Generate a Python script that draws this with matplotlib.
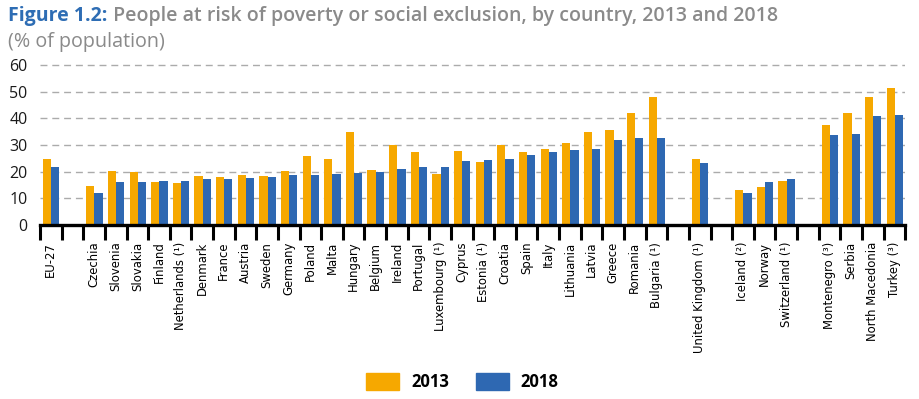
import numpy as np
import matplotlib.pyplot as plt
from matplotlib.patches import Patch

# categorias (None = hueco entre grupos)
paises = ["EU-27", None, "Czechia", "Slovenia", "Slovakia", "Finland", "Netherlands (¹)",
          "Denmark", "France", "Austria", "Sweden", "Germany", "Poland", "Malta",
          "Hungary", "Belgium", "Ireland", "Portugal", "Luxembourg (¹)", "Cyprus",
          "Estonia (¹)", "Croatia", "Spain", "Italy", "Lithuania", "Latvia", "Greece",
          "Romania", "Bulgaria (¹)", None, "United Kingdom (¹)", None, "Iceland (²)",
          "Norway", "Switzerland (¹)", None, "Montenegro (³)", "Serbia",
          "North Macedonia", "Turkey (³)"]

valores_2013 = [24.6, None, 14.6, 20.4, 19.8, 16.0, 15.9, 18.3, 18.1, 18.8, 18.3, 20.3,
                25.8, 24.6, 34.8, 20.8, 29.9, 27.5, 19.0, 27.8, 23.5, 29.9, 27.3, 28.5,
                30.8, 35.1, 35.7, 41.9, 48.0, None, 24.8, None, 13.0, 14.1, 16.4, None,
                37.4, 42.0, 48.1, 51.6]

valores_2018 = [21.6, None, 12.2, 16.2, 16.3, 16.5, 16.7, 17.4, 17.4, 17.5, 18.0, 18.7,
                18.9, 19.0, 19.6, 19.8, 21.1, 21.6, 21.9, 23.9, 24.4, 24.8, 26.1, 27.3,
                28.3, 28.4, 31.8, 32.5, 32.8, None, 23.1, None, 12.2, 16.2, 17.4, None,
                33.8, 34.3, 41.0, 41.3]

naranja = "#F6A800"
azul = "#2E68B2"
gris = "#8A8A8A"

fig = plt.figure(figsize=(9.19, 3.99), dpi=100)
ax = fig.add_axes([0.0435, 0.436, 0.9415, 0.414])

pos = np.arange(len(paises))
idx = [i for i, v in enumerate(valores_2013) if v is not None]
ancho = 0.38
ax.bar(pos[idx] - ancho / 2 + 0.02, [valores_2013[i] for i in idx], ancho, color=naranja, zorder=3)
ax.bar(pos[idx] + ancho / 2 + 0.02, [valores_2018[i] for i in idx], ancho, color=azul, zorder=3)

ax.set_xlim(-0.5, len(paises) - 0.5)
ax.set_ylim(0, 62)
ax.set_yticks(range(0, 61, 10))
ax.tick_params(axis='y', length=0, pad=9, labelsize=11.5, labelcolor="#1a1a1a")
for lab in ax.get_yticklabels():
    lab.set_family("Open Sans")

ax.set_xticks(pos)
ax.set_xticklabels([p if p else "" for p in paises], rotation=90, va='top', ha='center',
                   family=["Liberation Sans Narrow", "DejaVu Sans"], fontsize=8.4, color="black")
ax.set_xticks(np.arange(-0.5, len(paises), 1), minor=True)
ax.tick_params(axis='x', which='major', length=0, pad=12)
ax.tick_params(axis='x', which='minor', length=10.5, width=2.2, color='black')

ax.yaxis.grid(True, color="#ABABAB", linestyle=(0, (5, 3.5)), linewidth=1, zorder=0)
for s in ['top', 'right', 'left']:
    ax.spines[s].set_visible(False)
ax.spines['bottom'].set_linewidth(2.4)
ax.spines['bottom'].set_zorder(4)

# titulo
t1 = fig.text(0.009, 0.948, "Figure 1.2:", color="#2E6DB4", fontsize=14.0,
              fontweight='bold', family="Open Sans", va='baseline')
ax.annotate(" People at risk of poverty or social exclusion, by country, 2013 and 2018",
            xy=(1, 0), xycoords=t1, va='bottom', ha='left', color=gris, fontsize=14.0,
            fontweight='semibold', family="Open Sans", annotation_clip=False)
fig.text(0.009, 0.882, "(% of population)", color=gris, fontsize=14.2,
         family="Open Sans", va='baseline')

# leyenda
handles = [Patch(color=naranja, label="2013"), Patch(color=azul, label="2018")]
leg = fig.legend(handles=handles, loc='center', bbox_to_anchor=(0.503, 0.042), ncol=2,
                 frameon=False, handlelength=2.0, handleheight=1.2, handletextpad=0.7,
                 columnspacing=1.6, prop={'family': 'Open Sans', 'weight': 'bold', 'size': 12})

plt.savefig("out.png", dpi=100)
